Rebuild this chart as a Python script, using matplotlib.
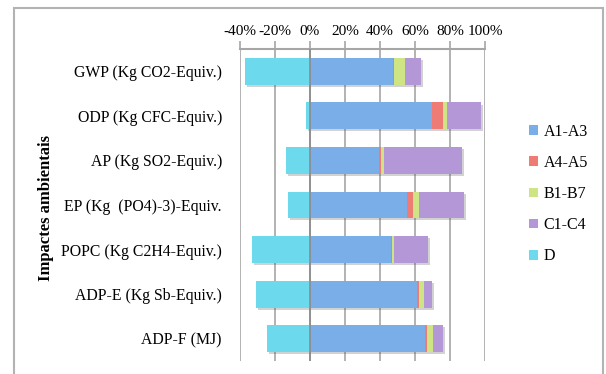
import matplotlib.pyplot as plt
import matplotlib.patheffects as pe
from matplotlib.patches import Rectangle

plt.rcParams['font.family'] = ['Liberation Serif', 'DejaVu Serif']

categories = ['GWP (Kg CO2-Equiv.)', 'ODP (Kg CFC-Equiv.)', 'AP (Kg SO2-Equiv.)',
              'EP (Kg  (PO4)-3)-Equiv.', 'POPC (Kg C2H4-Equiv.)', 'ADP-E (Kg Sb-Equiv.)',
              'ADP-F (MJ)']
a1_a3 = [47.5, 69.5, 39.4, 55.4, 46.3, 61.1, 65.7]
a4_a5 = [0.5, 6.3, 1.0, 3.5, 0.4, 1.2, 1.2]
b1_b7 = [6.3, 2.3, 1.7, 3.4, 1.3, 2.8, 3.4]
c1_c4 = [9.1, 19.4, 44.6, 25.7, 19.4, 4.6, 5.7]
d = [-37.0, -2.3, -13.7, -12.6, -33.1, -30.9, -24.6]

series = [('A1-A3', a1_a3, '#7aaee8'), ('A4-A5', a4_a5, '#ee7b74'),
          ('B1-B7', b1_b7, '#cfe585'), ('C1-C4', c1_c4, '#b497d6')]
d_color = '#6cd9ec'

fig = plt.figure(figsize=(6.06, 3.74), dpi=100)
fig.patches.append(Rectangle((14 / 606, -0.05), 589 / 606, 1 - 8.5 / 374 + 0.05,
                             transform=fig.transFigure, fill=False,
                             edgecolor='#b3b3b3', lw=1.5))
ax = fig.add_axes([240 / 606, 1 - 361 / 374, 245 / 606, 312 / 374])

y = list(range(len(categories)))
shadow = [pe.SimplePatchShadow(offset=(1.5, -1.5), alpha=0.25), pe.Normal()]

handles = []
left = [0] * len(categories)
for name, vals, col in series:
    bars = ax.barh(y, vals, left=left, height=0.6, color=col, label=name, zorder=3)
    handles.append(bars)
    left = [l + v for l, v in zip(left, vals)]
bd = ax.barh(y, d, height=0.6, color=d_color, label='D', zorder=3)
handles.append(bd)
# drop shadow behind the whole stacked bar
ax.barh(y, [l - v for l, v in zip(left, d)], left=d, height=0.6, color='white',
        zorder=2, path_effects=shadow)

ax.set_xlim(-40, 100)
ax.set_ylim(len(categories) - 0.5, -0.5)
ax.set_xticks(range(-40, 101, 20))
ax.set_xticklabels([f'{t}%' for t in range(-40, 101, 20)], fontsize=11)
ax.xaxis.tick_top()
ax.tick_params(axis='x', length=6, color='#a6a6a6', width=1.2, pad=2)
ax.set_yticks(y)
ax.set_yticklabels(categories, fontsize=11.3)
ax.tick_params(axis='y', length=0, pad=13)
ax.grid(axis='x', color='#a6a6a6', lw=1.2, zorder=0)
ax.axvline(0, color='#8c8c8c', lw=1.2, zorder=4)
for s in ['left', 'right', 'bottom']:
    ax.spines[s].set_visible(False)
ax.spines['top'].set_color('#a6a6a6')
ax.spines['top'].set_linewidth(1.5)

fig.text(46 / 606, 1 - 208 / 374, 'Impactes ambientais', rotation=90, va='center',
         ha='center', fontsize=12, fontweight='bold')

fig.legend(handles=handles, loc='center left', bbox_to_anchor=(515 / 606, 1 - 194 / 374),
           frameon=False, fontsize=11.5, handlelength=0.55, handleheight=0.55,
           handletextpad=0.35, labelspacing=0.95)

fig.savefig('out.png', dpi=100)
